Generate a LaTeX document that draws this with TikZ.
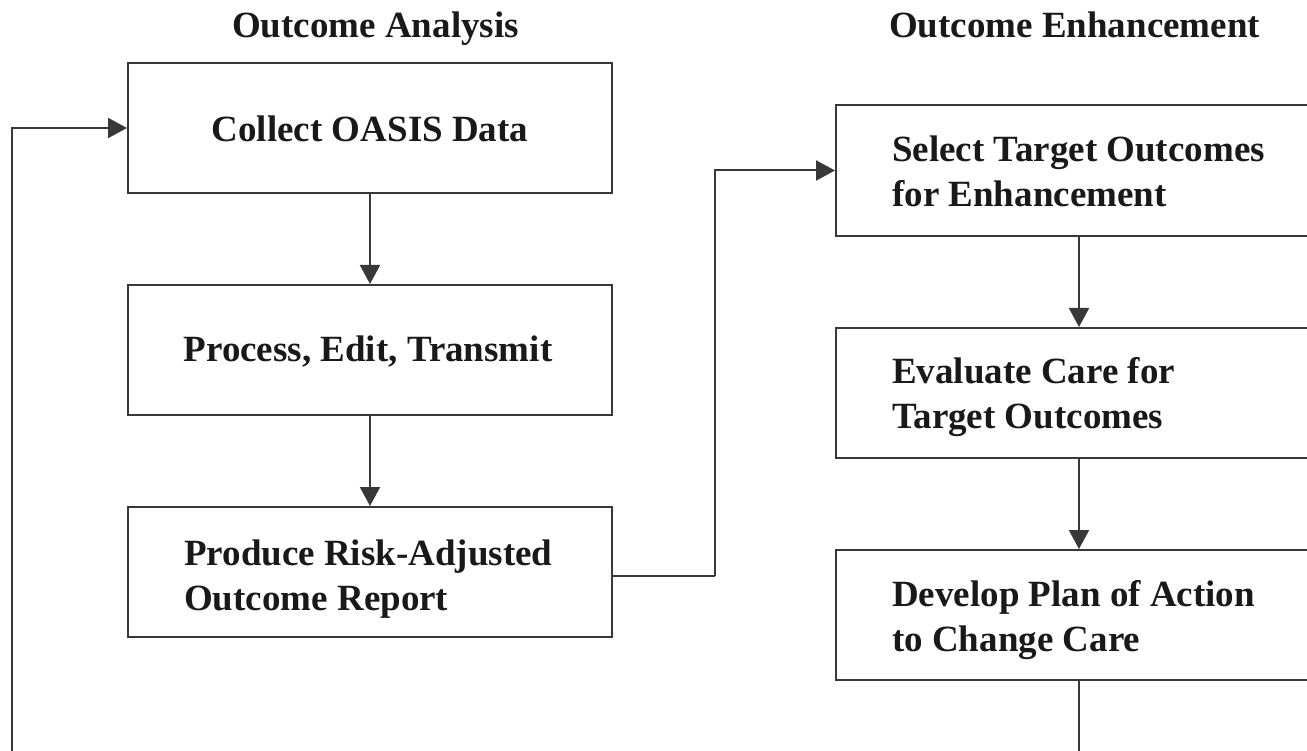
\documentclass[tikz,border=0pt]{standalone}
\usepackage{fontspec}
\setmainfont{Liberation Serif}
\usetikzlibrary{arrows.meta}
\newcommand{\twolines}[2]{\begin{tabular}[t]{@{}l@{}}#1\\#2\end{tabular}}
\tikzset{
  boxshape/.style={draw=black!78, line width=2pt, minimum width=484pt, minimum height=130pt, inner sep=0pt},
  boxtext/.style={font=\fontsize{37}{45}\selectfont\bfseries, text=black!90, inner sep=0pt},
  conn/.style={draw=black!78, line width=2pt, -{Triangle[length=19pt,width=20pt]}},
  plain/.style={draw=black!78, line width=2pt}
}
\begin{document}
\begin{tikzpicture}[x=1pt,y=-1pt]
\useasboundingbox (0,0) rectangle (1307,751);
\clip (0,0) rectangle (1307,751);
% titles
\node[boxtext, anchor=base] (t1) at (375.5,38) {Outcome Analysis};
\node[boxtext, anchor=base] (t2) at (1074.5,38) {Outcome Enhancement};
% boxes
\node[boxshape] (b1) at (370,128) {};
\node[boxshape] (b2) at (370,350) {};
\node[boxshape] (b3) at (370,572) {};
\node[boxshape, minimum width=486pt, minimum height=131pt] (r1) at (1079,170.5) {};
\node[boxshape, minimum width=486pt] (r2) at (1079,393) {};
\node[boxshape, minimum width=486pt] (r3) at (1079,615) {};
% texts
\node[boxtext, anchor=base] (b1t) at (370,142) {Collect OASIS Data};
\node[boxtext, anchor=base] (b2t) at (368,362) {Process, Edit, Transmit};
\node[boxtext, anchor=base west] (b3t) at (184,565) {\twolines{Produce Risk-Adjusted}{Outcome Report}};
\node[boxtext, anchor=base west] (r1t) at (892,162) {\twolines{Select Target Outcomes}{for Enhancement}};
\node[boxtext, anchor=base west] (r2t) at (892,383) {\twolines{Evaluate Care for}{Target Outcomes}};
\node[boxtext, anchor=base west] (r3t) at (892,606) {\twolines{Develop Plan of Action}{to Change Care}};
% connectors
\coordinate (fb) at (12,770);
\coordinate (rb) at (1079,770);
\coordinate (m) at (715,576);
\draw[conn] (fb) |- (b1.west);
\draw[conn] (b1.south) -- (b2.north);
\draw[conn] (b2.south) -- (b3.north);
\draw[plain] (b3.east |- m) -- (m);
\draw[conn] (m) |- (r1.west);
\draw[conn] (r1.south) -- (r2.north);
\draw[conn] (r2.south) -- (r3.north);
\draw[plain] (r3.south) -- (rb);
\end{tikzpicture}
\end{document}
